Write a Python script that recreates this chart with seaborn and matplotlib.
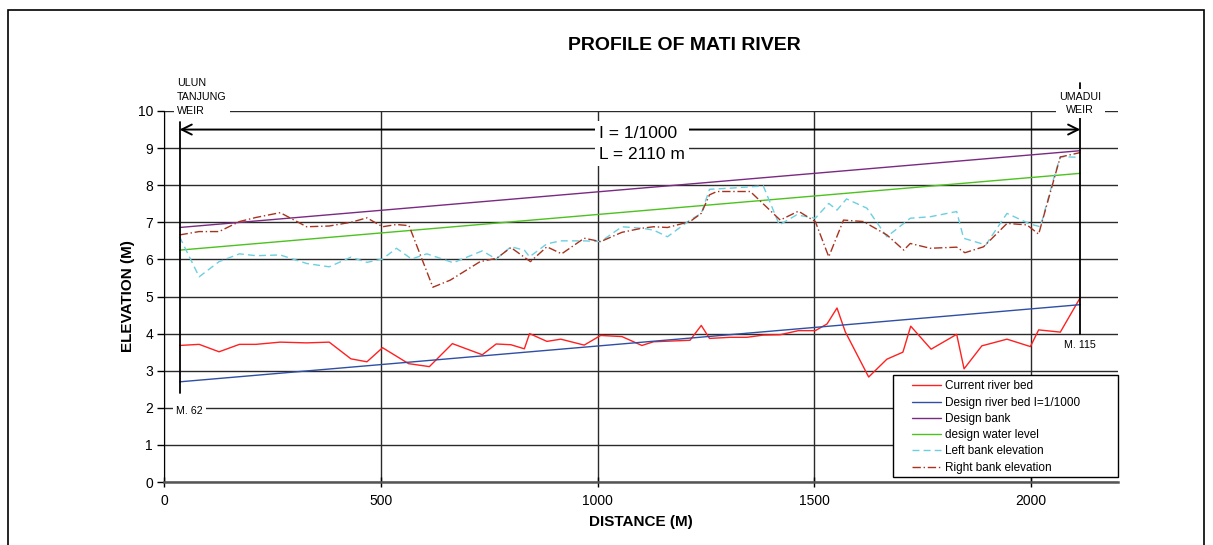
import numpy as np
import pandas as pd
import matplotlib
matplotlib.use("Agg")
import matplotlib.pyplot as plt
from matplotlib.patches import Rectangle
import seaborn as sns

# distances (m) and elevations (m)
bed_x = [36, 81, 127, 174, 212, 268, 329, 381, 431, 468, 504, 564, 612, 665, 734, 766,
         800, 831, 843, 883, 915, 969, 1007, 1056, 1102, 1129, 1213, 1239, 1258, 1306,
         1344, 1382, 1421, 1463, 1502, 1529, 1552, 1571, 1625, 1667, 1704, 1722, 1769,
         1828, 1845, 1886, 1944, 1998, 2017, 2067, 2113]
bed_y = [3.68, 3.71, 3.51, 3.71, 3.71, 3.77, 3.75, 3.77, 3.32, 3.24, 3.62, 3.19, 3.11,
         3.73, 3.43, 3.72, 3.70, 3.59, 4.00, 3.79, 3.85, 3.69, 3.95, 3.92, 3.68, 3.78,
         3.82, 4.22, 3.87, 3.90, 3.90, 3.96, 3.97, 4.08, 4.08, 4.26, 4.69, 4.05, 2.83,
         3.31, 3.50, 4.20, 3.58, 3.98, 3.05, 3.67, 3.85, 3.65, 4.10, 4.04, 4.97]

left_x = [36, 81, 127, 174, 212, 268, 329, 381, 431, 468, 504, 536, 571, 606, 637, 667,
          734, 766, 800, 831, 843, 883, 915, 969, 1007, 1056, 1102, 1129, 1161, 1213,
          1239, 1258, 1306, 1382, 1419, 1459, 1502, 1533, 1552, 1574, 1621, 1667, 1721,
          1767, 1828, 1844, 1895, 1944, 1998, 2021, 2055, 2067, 2113]
left_y = [6.61, 5.53, 5.94, 6.15, 6.10, 6.12, 5.89, 5.80, 6.06, 5.92, 6.01, 6.30, 6.01,
          6.15, 6.03, 5.91, 6.23, 6.01, 6.34, 6.25, 6.07, 6.42, 6.50, 6.50, 6.48, 6.88,
          6.84, 6.79, 6.61, 7.06, 7.24, 7.89, 7.92, 7.98, 6.93, 7.20, 7.11, 7.51, 7.33,
          7.63, 7.38, 6.61, 7.11, 7.15, 7.29, 6.57, 6.39, 7.24, 6.95, 6.88, 8.32, 8.77, 8.75]

right_x = [36, 81, 127, 174, 212, 268, 329, 381, 431, 468, 504, 536, 565, 620, 660, 729,
           767, 800, 845, 883, 917, 969, 1007, 1056, 1102, 1129, 1161, 1213, 1239, 1258,
           1275, 1352, 1421, 1463, 1502, 1533, 1567, 1613, 1667, 1706, 1721, 1767, 1828,
           1847, 1890, 1944, 1990, 2017, 2055, 2067, 2113]
right_y = [6.66, 6.75, 6.75, 7.02, 7.13, 7.26, 6.88, 6.90, 7.00, 7.12, 6.88, 6.94, 6.91,
           5.25, 5.44, 5.94, 6.03, 6.32, 5.94, 6.34, 6.15, 6.57, 6.48, 6.73, 6.84, 6.88,
           6.86, 7.02, 7.24, 7.74, 7.83, 7.83, 7.06, 7.30, 7.02, 6.07, 7.06, 7.02, 6.66,
           6.25, 6.43, 6.30, 6.33, 6.18, 6.34, 6.97, 6.93, 6.68, 8.27, 8.76, 8.88]

design_x = [36, 2113]
design_bed = [2.70, 4.78]
design_bank = [6.86, 8.93]
design_water = [6.25, 8.32]

sns.set_style("white")
plt.rcParams["font.family"] = ["Liberation Sans", "DejaVu Sans"]
plt.rcParams["text.color"] = "black"
plt.rcParams["axes.labelcolor"] = "black"
plt.rcParams["xtick.color"] = "black"
plt.rcParams["ytick.color"] = "black"

fig = plt.figure(figsize=(12.13, 5.45), dpi=100)
ax = fig.add_axes([164 / 1213, 1 - 482 / 545, (1118 - 164) / 1213, (482 - 111) / 545])

sns.lineplot(x=bed_x, y=bed_y, ax=ax, color="#ff2020", lw=1.0, sort=False,
             label="Current river bed")
sns.lineplot(x=design_x, y=design_bed, ax=ax, color="#2f4fa5", lw=1.0,
             label="Design river bed I=1/1000")
sns.lineplot(x=design_x, y=design_bank, ax=ax, color="#7a2a82", lw=1.0,
             label="Design bank")
sns.lineplot(x=design_x, y=design_water, ax=ax, color="#4cc21e", lw=1.0,
             label="design water level")
sns.lineplot(x=left_x, y=left_y, ax=ax, color="#6ccfe0", lw=1.0, sort=False,
             label="Left bank elevation")
sns.lineplot(x=right_x, y=right_y, ax=ax, color="#a8321e", lw=1.0, sort=False,
             label="Right bank elevation")
ax.lines[4].set_linestyle((0, (5, 3)))
ax.lines[5].set_linestyle((0, (6, 2, 1, 2)))

ax.set_xlim(0, 2200)
ax.set_ylim(0, 10)
ax.set_xticks([0, 500, 1000, 1500, 2000])
ax.set_yticks(range(0, 11))
ax.grid(True, color="#2a2a2a", lw=1.0)
ax.set_axisbelow(True)
for s in ["top", "right"]:
    ax.spines[s].set_visible(False)
ax.spines["left"].set_color("black")
ax.spines["bottom"].set_color("#555555")
ax.spines["bottom"].set_linewidth(1.8)
ax.tick_params(axis="y", direction="out", length=5, width=1,
               labelsize=10, pad=3, left=True)
ax.tick_params(axis="x", direction="inout", length=7, width=1,
               labelsize=10, pad=5, bottom=True)

ax.set_xlabel("DISTANCE (M)", fontsize=11, fontweight="bold", labelpad=5)
ax.set_ylabel("ELEVATION (M)", fontsize=11, fontweight="bold", labelpad=2)

fig.text(684 / 1213, 1 - 45 / 545, "PROFILE OF MATI RIVER", ha="center", va="center",
         fontsize=14, fontweight="bold")

# weir markers and reach annotation
ax.plot([36, 36], [2.4, 9.7], color="black", lw=1.3, zorder=3)
ax.plot([2113, 2113], [4.0, 10.75], color="black", lw=1.3, zorder=3, clip_on=False)
ax.annotate("", xy=(36, 9.5), xytext=(2113, 9.5),
            arrowprops=dict(arrowstyle="<->", color="black", lw=1.4,
                            mutation_scale=18, shrinkA=0, shrinkB=0), zorder=4)
ax.text(1003, 9.12, "I = 1/1000\nL = 2110 m", ha="left", va="center", fontsize=12.5,
        linespacing=1.5, zorder=5,
        bbox=dict(boxstyle="square,pad=0.25", fc="white", ec="none"))
ax.text(30, 10.38, "ULUN\nTANJUNG\nWEIR", ha="left", va="center", fontsize=7.7,
        linespacing=1.5, zorder=5, clip_on=False,
        bbox=dict(boxstyle="square,pad=0.3", fc="white", ec="none"))
ax.text(2113, 10.2, "UMADUI\nWEIR", ha="center", va="center", fontsize=7.7,
        linespacing=1.4, zorder=5, clip_on=False,
        bbox=dict(boxstyle="square,pad=0.3", fc="white", ec="none"))
ax.text(28, 1.92, "M. 62", ha="left", va="center", fontsize=7.7, zorder=5,
        bbox=dict(boxstyle="square,pad=0.3", fc="white", ec="none"))
ax.text(2113, 3.7, "M. 115", ha="center", va="center", fontsize=7.7, zorder=5,
        bbox=dict(boxstyle="square,pad=0.15", fc="white", ec="none"))

# legend box drawn separately so it can be wider than its entries
ax.add_patch(Rectangle(((893 - 164) / 954, (482 - 477) / 371), 225 / 954, 102 / 371,
                       transform=ax.transAxes, fc="white", ec="black", lw=1.0,
                       zorder=5, clip_on=False))
leg = ax.legend(loc="lower left", bbox_to_anchor=((910 - 164) / 954, 0.016),
                fontsize=8.5, frameon=False, borderpad=0.2,
                labelspacing=0.36, handlelength=2.4, handletextpad=0.4,
                borderaxespad=0)
leg.set_zorder(6)

fig.add_artist(Rectangle((8 / 1213, -0.1), (1204 - 8) / 1213, 1.1 - 10 / 545,
                         transform=fig.transFigure, fill=False, ec="black", lw=1.2))

fig.savefig("out.png", dpi=100)
